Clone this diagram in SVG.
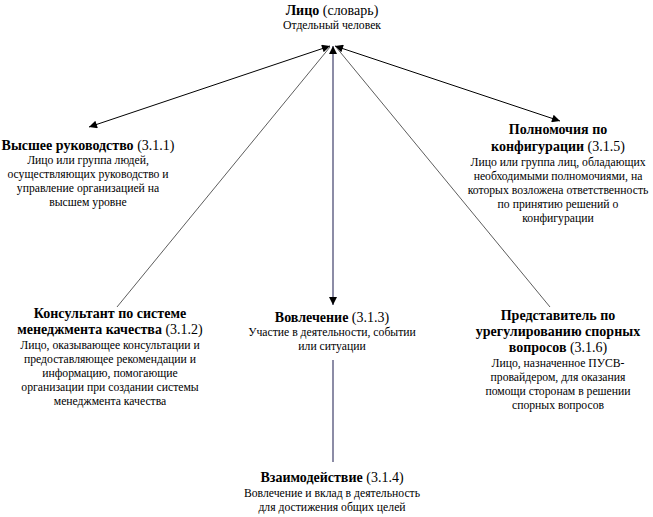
<svg xmlns="http://www.w3.org/2000/svg" width="653" height="517" viewBox="0 0 653 517" font-family="'Liberation Serif', 'Times New Roman', serif">
<defs>
<style>
text{font-family:'Liberation Serif','Times New Roman',serif;fill:#000;text-anchor:middle}
.t{font-size:14px}
.b{font-weight:bold}
.d{font-size:11.7px}
.ln{stroke:#000;stroke-width:1;fill:none}
.thin{stroke:#333;stroke-width:0.8;fill:none}
.v{stroke:#666688;stroke-width:1.5;fill:none}
</style>
<marker id="ah" viewBox="0 0 10 10" refX="10" refY="5" markerWidth="11" markerHeight="8" markerUnits="userSpaceOnUse" orient="auto-start-reverse">
<path d="M0,0 L10,5 L0,10 z" fill="#000"/>
</marker>
</defs>
<rect width="653" height="517" fill="#fff"/>
<g id="connectors">
<line class="ln" x1="330" y1="46" x2="89" y2="127" marker-start="url(#ah)" marker-end="url(#ah)"/>
<line class="ln" x1="335" y1="46" x2="560" y2="121" marker-start="url(#ah)" marker-end="url(#ah)"/>
<line class="v" x1="333" y1="46" x2="333" y2="305" marker-start="url(#ah)" marker-end="url(#ah)"/>
<line class="thin" x1="330" y1="47" x2="117" y2="307"/>
<line class="thin" x1="336" y1="47" x2="550" y2="307"/>
<line class="v" x1="333" y1="360" x2="333" y2="462"/>
</g>
<g id="n-lico">
<text class="t" x="332" y="15"><tspan class="b">Лицо</tspan> (словарь)</text>
<text class="d" x="332" y="29">Отдельный человек</text>
</g>
<g id="n-3-1-1">
<text class="t" x="88" y="150"><tspan class="b">Высшее руководство</tspan> (3.1.1)</text>
<text class="d" x="88" y="164">Лицо или группа людей,</text>
<text class="d" x="88" y="178">осуществляющих руководство и</text>
<text class="d" x="88" y="192">управление организацией на</text>
<text class="d" x="88" y="206">высшем уровне</text>
</g>
<g id="n-3-1-5">
<text class="t b" x="558" y="134">Полномочия по</text>
<text class="t" x="558" y="151"><tspan class="b">конфигурации</tspan> (3.1.5)</text>
<text class="d" x="558" y="166">Лицо или группа лиц, обладающих</text>
<text class="d" x="558" y="180">необходимыми полномочиями, на</text>
<text class="d" x="558" y="194">которых возложена ответственность</text>
<text class="d" x="558" y="208">по принятию решений о</text>
<text class="d" x="558" y="222">конфигурации</text>
</g>
<g id="n-3-1-2">
<text class="t b" x="110" y="318">Консультант по системе</text>
<text class="t" x="110" y="334"><tspan class="b">менеджмента качества</tspan> (3.1.2)</text>
<text class="d" x="110" y="349">Лицо, оказывающее консультации и</text>
<text class="d" x="110" y="363">предоставляющее рекомендации и</text>
<text class="d" x="110" y="377">информацию, помогающие</text>
<text class="d" x="110" y="391">организации при создании системы</text>
<text class="d" x="110" y="405">менеджмента качества</text>
</g>
<g id="n-3-1-3">
<text class="t" x="332" y="322"><tspan class="b">Вовлечение</tspan> (3.1.3)</text>
<text class="d" x="332" y="336">Участие в деятельности, событии</text>
<text class="d" x="332" y="350">или ситуации</text>
</g>
<g id="n-3-1-6">
<text class="t b" x="558" y="320">Представитель по</text>
<text class="t b" x="558" y="336">урегулированию спорных</text>
<text class="t" x="558" y="352"><tspan class="b">вопросов</tspan> (3.1.6)</text>
<text class="d" x="558" y="367">Лицо, назначенное ПУСВ-</text>
<text class="d" x="558" y="381">провайдером, для оказания</text>
<text class="d" x="558" y="395">помощи сторонам в решении</text>
<text class="d" x="558" y="409">спорных вопросов</text>
</g>
<g id="n-3-1-4">
<text class="t" x="332" y="482"><tspan class="b">Взаимодействие</tspan> (3.1.4)</text>
<text class="d" x="332" y="497">Вовлечение и вклад в деятельность</text>
<text class="d" x="332" y="511">для достижения общих целей</text>
</g>
</svg>
